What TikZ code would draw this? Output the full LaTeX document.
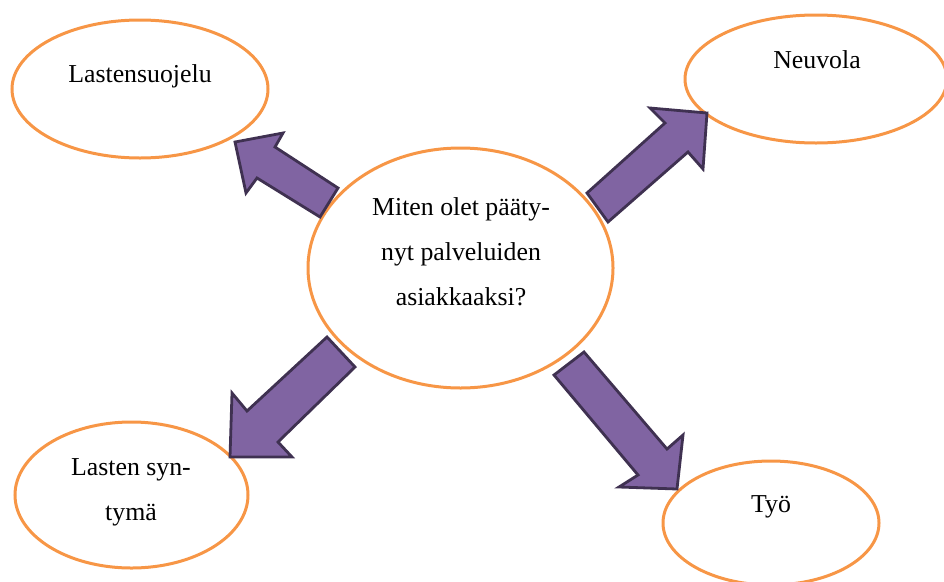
\documentclass[tikz,border=0pt]{standalone}
\usepackage{fontspec}
\setmainfont{Liberation Serif}
\usetikzlibrary{shapes.geometric}
\definecolor{ovalorange}{HTML}{F79646}
\definecolor{arrowfill}{HTML}{8064A2}
\definecolor{arrowline}{HTML}{3F3151}
\tikzset{
  oval/.style={ellipse, draw=ovalorange, line width=3pt, fill=white, inner sep=0pt},
  blockarrow/.style={draw=arrowline, fill=arrowfill, line width=2.8pt, line join=miter},
  label text/.style={font=\fontsize{25.8pt}{44.8pt}\selectfont, inner sep=0pt, anchor=base, align=center},
}
\begin{document}
\begin{tikzpicture}[x=1pt,y=-1pt]
\useasboundingbox (0,0) rectangle (944,581);
% ellipses
\node[oval, minimum width=305pt, minimum height=240pt] (center) at (460.5,268) {};
\node[oval, minimum width=256pt, minimum height=138pt] (lsuoj) at (140,89) {};
\node[oval, minimum width=262pt, minimum height=128pt] (neuv) at (816,79) {};
\node[oval, minimum width=233pt, minimum height=146pt] (synt) at (131.5,495) {};
\node[oval, minimum width=216pt, minimum height=124pt] (tyo) at (771,523) {};
% texts (base anchor = baseline of the last line)
\node[label text] (tcenter) at (461,305) {Miten olet pääty-\\nyt palveluiden\\asiakkaaksi?};
\node[label text] (tlsuoj) at (140,82) {Lastensuojelu};
\node[label text] (tneuv) at (817,68) {Neuvola};
\node[label text] (tsynt) at (131,520) {Lasten syn-\\tymä};
\node[label text] (ttyo) at (771,512) {Työ};
% block arrows
\draw[blockarrow] (338,188) -- (275,147) -- (283,133) -- (235,142) -- (246,193) -- (257,178) -- (320,217) -- cycle;
\draw[blockarrow] (587,193) -- (665,123) -- (650,108) -- (707,113) -- (703,169) -- (688,152) -- (608,222) -- cycle;
\draw[blockarrow] (327,337) -- (355,367) -- (278,442) -- (292,457) -- (230,457) -- (232,393) -- (247,411) -- cycle;
\draw[blockarrow] (554,375) -- (584,352) -- (667,449) -- (683,435) -- (677,489) -- (619,487) -- (638,475) -- cycle;
\end{tikzpicture}
\end{document}
